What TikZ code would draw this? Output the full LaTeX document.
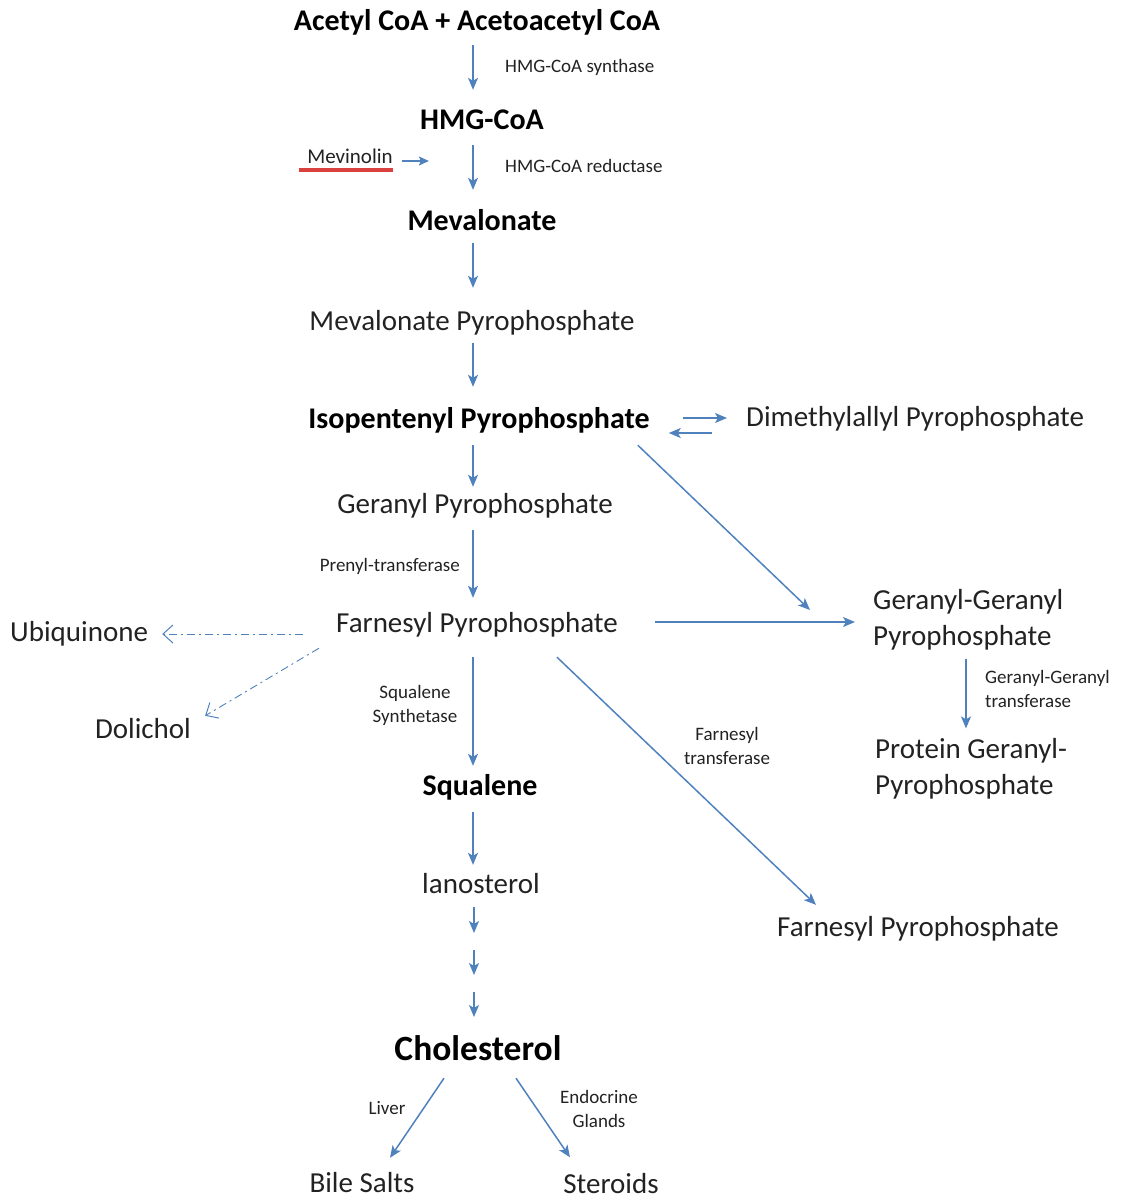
\documentclass[tikz,border=0pt]{standalone}
\usepackage{fontspec}
\setmainfont{Carlito}
\usetikzlibrary{arrows.meta}
\definecolor{arrc}{HTML}{4F81BD}
\definecolor{txt}{HTML}{222222}
\definecolor{redl}{HTML}{D9423F}
\begin{document}
\begin{tikzpicture}[x=1pt,y=-1pt,
  main/.style={font=\fontsize{29}{36}\selectfont, text=txt, inner sep=0pt, text height=23pt, text depth=3pt},
  bmain/.style={main, font=\fontsize{30}{36}\selectfont\bfseries, text=black},
  multi/.style={font=\fontsize{29}{36}\selectfont, text=txt, inner sep=0pt, align=left},
  lab/.style={font=\fontsize{19}{24}\selectfont, text=txt, inner sep=0pt, align=center},
  chol/.style={font=\fontsize{35.5}{40}\selectfont\bfseries, text=black, inner sep=0pt, text height=28pt, text depth=3pt},
  arr/.style={draw=arrc, line width=1.5pt, -{Stealth[length=12pt,width=10pt,inset=3pt]}},
  dd/.style={draw=arrc, line width=0.9pt, dash pattern=on 8pt off 4pt on 2pt off 4pt, -{Straight Barb[length=10pt,width=18pt,line width=1pt]}},
  redu/.style={draw=redl, line width=4pt}
]
\useasboundingbox (0,0) rectangle (1137,1201);
\coordinate (col) at (473,0);
\coordinate (col2) at (966,0);

% nodes
\node[bmain] (acetyl) at (477,21) {Acetyl CoA + Acetoacetyl CoA};
\node[lab, anchor=west] (syn) at (505,67) {HMG-CoA synthase};
\node[bmain] (hmg) at (482,120) {HMG-CoA};
\node[font=\fontsize{21}{24}\selectfont, text=txt, inner sep=0pt] (mev) at (350,156) {Mevinolin};
\node[lab, anchor=west] (red) at (505,166) {HMG-CoA reductase};
\node[bmain] (meval) at (482,220) {Mevalonate};
\node[main] (mpp) at (472,320) {Mevalonate Pyrophosphate};
\node[bmain] (ipp) at (479,418) {Isopentenyl Pyrophosphate};
\node[main, anchor=west] (dmapp) at (746,416) {Dimethylallyl Pyrophosphate};
\node[main] (gpp) at (475,503) {Geranyl Pyrophosphate};
\node[lab, anchor=east] (prenyl) at (460,566) {Prenyl-transferase};
\node[main] (fpp) at (477,622) {Farnesyl Pyrophosphate};
\node[multi, anchor=west] (ggpp) at (873,620) {Geranyl-Geranyl\\Pyrophosphate};
\node[lab, anchor=west, align=left] (ggt) at (985,689) {Geranyl-Geranyl\\transferase};
\node[multi, anchor=west] (pggpp) at (875,769) {Protein Geranyl-\\Pyrophosphate};
\node[main, anchor=west] (ubi) at (10,631) {Ubiquinone};
\node[main] (dol) at (143,728) {Dolichol};
\node[lab] (sqs) at (415,705) {Squalene\\Synthetase};
\node[lab] (ft) at (727,746) {Farnesyl\\transferase};
\node[main] (fpp2) at (918,926) {Farnesyl Pyrophosphate};
\node[bmain] (squal) at (480,785) {Squalene};
\node[main] (lano) at (481,883) {lanosterol};
\node[chol] (chol) at (478,1048) {Cholesterol};
\node[lab] (liver) at (387,1108) {Liver};
\node[lab] (endo) at (599,1109) {Endocrine\\Glands};
\node[main, text depth=0pt] (bile) at (362,1181) {Bile Salts};
\node[main, text depth=0pt] (ster) at (611,1181.5) {Steroids};

% Mevinolin underline and arrow
\draw[redu] ([xshift=-8pt,yshift=-6pt]mev.south west) -- ([yshift=-6pt]mev.south east);
\draw[arrc, line width=1.3pt, -{Stealth[length=10pt,width=9pt,inset=2pt]}] ([xshift=9pt,yshift=-5pt]mev.east) -- ([xshift=36pt,yshift=-5pt]mev.east);

% main vertical chain
\draw[arr, shorten <=11pt, shorten >=17pt] (acetyl.south -| col) -- (hmg.north -| col);
\draw[arr, shorten <=12pt, shorten >=17pt] (hmg.south -| col) -- (meval.north -| col);
\draw[arr, shorten <=10pt, shorten >=19pt] (meval.south -| col) -- (mpp.north -| col);
\draw[arr, shorten <=10pt, shorten >=18pt] (mpp.south -| col) -- (ipp.north -| col);
\draw[arr, shorten <=14pt, shorten >=3pt] (ipp.south -| col) -- (gpp.north -| col);
\draw[arr, shorten <=14pt, shorten >=11pt] (gpp.south -| col) -- (fpp.north -| col);
\draw[arr, shorten <=22pt, shorten >=6pt] (fpp.south -| col) -- (squal.north -| col);
\draw[arr, shorten <=14pt, shorten >=5pt] (squal.south -| col) -- (lano.north -| col);

% small arrows lanosterol -> cholesterol
\coordinate (s1a) at (474,907); \coordinate (s1b) at (474,933);
\coordinate (s2a) at (474,950); \coordinate (s2b) at (474,975);
\coordinate (s3a) at (474,992); \coordinate (s3b) at (474,1017);
\draw[arr] (s1a) -- (s1b);
\draw[arr] (s2a) -- (s2b);
\draw[arr] (s3a) -- (s3b);

% IPP <-> DMAPP
\path ([yshift=-15pt]ipp.east) coordinate (ippe2);
\draw[arr, shorten <=33pt, shorten >=19pt] (ipp.east) -- (ipp.east -| dmapp.west);
\draw[arr, shorten <=34pt, shorten >=19pt] (ippe2 -| dmapp.west) -- (ippe2);

% branches
\draw[arr] ([xshift=-12pt,yshift=-14pt]ipp.south east) -- ([xshift=-63pt,yshift=10pt]ggpp.west);
\draw[arr, shorten <=37pt, shorten >=18pt] (fpp.east) -- (fpp.east -| ggpp.west);
\draw[arr] ([xshift=80pt,yshift=-22pt]fpp.south) -- ([xshift=39pt,yshift=8pt]fpp2.north west);
\draw[arr, shorten <=8pt, shorten >=10pt] (ggpp.south -| col2) -- (pggpp.north -| col2);

% dash-dot branches
\path ([yshift=-12pt]fpp.west) coordinate (fppw);
\draw[dd, shorten <=33pt, shorten >=14pt] (fppw) -- (fppw -| ubi.east);
\draw[dd] ([xshift=-17pt,yshift=-13pt]fpp.south west) -- ([xshift=14pt,yshift=-1pt]dol.north east);

% cholesterol products
\draw[arr] ([xshift=-34pt,yshift=-14.5pt]chol.south) -- ([xshift=28pt,yshift=11.5pt]bile.north);
\draw[arr] ([xshift=38pt,yshift=-14.5pt]chol.south) -- ([xshift=-41pt,yshift=12.5pt]ster.north);
\end{tikzpicture}
\end{document}
